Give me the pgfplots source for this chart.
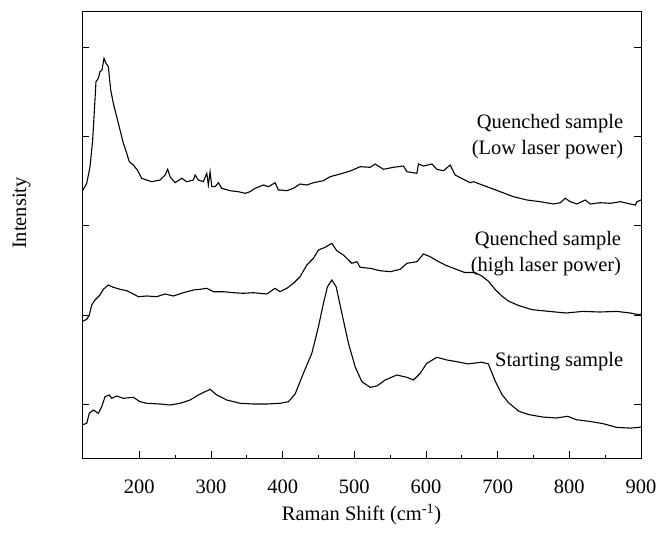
\documentclass[border=0pt]{standalone}
\usepackage{pgfplots}
\pgfplotsset{compat=1.18}
\usepackage{fontspec}
\setmainfont{Liberation Serif}
\begin{document}
\fontsize{20.5}{26}\selectfont
\begin{tikzpicture}
\begin{axis}[
  scale only axis,
  width=559pt, height=447pt,
  xmin=120, xmax=900, ymin=0, ymax=447,
  xtick={200,300,...,900},
  ytick={54,143,233,322,411},
  yticklabels={},
  minor x tick num=1,
  minor y tick num=4,
  tick align=inside,
  major tick length=7pt,
  minor tick length=3pt,
  xtick pos=bottom,
  ytick pos=both,
  /pgf/number format/assume math mode=true,
  x tick label style={yshift=-15pt},
  tick label style={font=\fontsize{20.5}{24}\selectfont},
  xlabel={Raman Shift (cm\textsuperscript{-1})},
  xlabel style={yshift=4pt},
  ylabel={Intensity},
  ylabel style={at={(axis description cs:-0.108,0.548)}, anchor=center, rotate=0},
  axis line style={line width=0.9pt},
  every tick/.style={line width=0.8pt, black},
]
% Quenched sample (Low laser power)
\addplot[black, line width=1.1pt] coordinates {
(120,266.3)(126.6,274.7)(131.2,291.3)(134.9,318)(138.1,358)(139.5,376.3)(142.8,379.7)(145.1,386.3)(147.9,388)(150.7,399.7)(153.5,394.7)(156.7,391.3)(160.1,368)(163.7,354.7)(168.4,341.3)(173.1,328)(177.7,314.7)(182.4,304.7)(186.0,296.3)(191.6,293)(197.2,288)(203.3,279.7)(210.3,278)(217.3,276.3)(228.9,278)(235.9,283)(239.6,288.7)(242.9,281.3)(249.8,275.3)(259.2,279.7)(266.2,276.3)(275.4,278)(277.8,283)(282.4,278)(289.3,276.3)(294.1,284.7)(296.3,273)(298.7,286.3)(301.1,271.3)(305.7,271.3)(310.3,275.3)(315.0,269.7)(326.6,267.3)(338.2,266.3)(347.6,264.7)(354.5,266.3)(361.5,269.7)(373.1,273)(380.1,271.3)(389.4,275.3)(394.1,268)(396.4,268)(405.8,267.3)(415.0,269.7)(424.3,274)(433.7,273)(442.9,275.3)(456.9,277.3)(466.2,281.3)(480.2,284)(494.2,287)(508.1,291.3)(522.1,290.7)(529.0,294)(540.6,288.7)(554.6,290.7)(568.6,292)(573.3,286.3)(587.3,284.7)(589.5,294)(596.5,292)(608.2,294)(615.2,288.7)(624.4,287.3)(633.8,293)(640.7,283)(652.3,278.7)(661.7,275.3)(666.3,276.3)(685.0,271.3)(703.6,266.3)(722.1,261.3)(740.8,258)(759.4,256.3)(778.0,254)(787.3,255.3)(794.3,259.7)(801.3,256.3)(810.6,254)(822.2,258)(829.2,254)(843.2,255.3)(857.1,254.7)(871.1,256.3)(885.1,254)(892.0,253)(894.4,256.3)(900,258)
};
% Quenched sample (high laser power)
\addplot[black, line width=1.1pt] coordinates {
(120,136.3)(126.6,138.7)(130.2,143)(133.5,153)(138.1,158)(145.1,163)(149.7,168.7)(156.7,173)(163.7,170.7)(173.1,168.7)(182.4,167.3)(191.6,164)(198.6,161.3)(210.3,162)(224.3,161.3)(235.9,164)(247.5,162)(261.4,165.3)(275.4,168)(284.7,168.7)(294.1,169.7)(303.3,166.3)(317.3,166.3)(331.2,165.3)(345.2,164.7)(359.1,165.3)(377.9,164)(389.4,169.7)(396.4,166.3)(405.8,169.7)(415.0,174.7)(424.3,181.3)(433.7,193)(442.9,199.7)(449.9,208)(459.2,210.7)(468.6,214.7)(475.5,207.3)(484.7,203)(496.5,194.7)(503.5,196.3)(508.1,190.7)(522.1,189.7)(536.0,187.3)(550.0,186.3)(564.0,188.7)(573.3,194.7)(587.3,196.3)(596.5,204)(605.8,201.3)(615.2,197.3)(626.8,193)(638.4,189.7)(654.0,185.5)(668.1,185.5)(677.6,182.1)(686.8,177)(696.4,168.6)(705.8,162)(715.3,156.8)(729.4,152.4)(748.2,148.3)(772.0,146.6)(795.4,145)(819.0,146.6)(842.6,146)(866.2,146.6)(885.1,145)(896.8,143.3)(900,144)
};
% Starting sample
\addplot[black, line width=1.1pt] coordinates {
(120,33)(126.6,34.7)(130.2,44.7)(135.8,48)(142.8,44.7)(147.5,51.3)(152.1,61.3)(158.1,63)(161.5,59.7)(168.4,62)(177.7,59.7)(191.6,60.7)(201.0,56.3)(210.3,54.7)(228.9,54)(242.9,53)(256.8,54.7)(270.8,58)(282.4,63)(291.7,66.3)(298.7,68.7)(308.1,63)(322.0,58)(340.6,54.7)(359.1,54)(377.9,54)(396.4,54.7)(408.0,56.3)(417.4,64)(428.9,84.7)(440.7,104.7)(449.9,131.3)(456.9,154.7)(462.5,171.3)(468.6,178)(474.6,171.3)(482.6,144.7)(491.8,114.7)(501.1,91.3)(510.5,76.3)(522.1,70.7)(531.4,72)(543.0,78)(559.3,83)(573.3,80.7)(582.5,78)(591.9,84.7)(601.2,94.7)(615.2,100.7)(629.2,98)(643.1,96.3)(658.6,94.1)(677.6,95.8)(687.0,94.1)(696.4,77.2)(705.8,63.7)(715.3,55.2)(729.4,46.8)(743.5,43.4)(762.5,41)(781.3,40)(797.8,41.7)(809.5,38.3)(828.5,36.6)(847.4,34.3)(866.2,30.6)(885.1,29.9)(896.8,30.6)(900,31)
};
\node[anchor=east, align=right, font=\fontsize{20.5}{26}\selectfont] at (axis cs:885,321) {Quenched sample\\(Low laser power)};
\node[anchor=east, align=right, font=\fontsize{20.5}{26}\selectfont] at (axis cs:882,204) {Quenched sample\\(high laser power)};
\node[anchor=east, align=right, font=\fontsize{20.5}{26}\selectfont] at (axis cs:885,96) {Starting sample};
\end{axis}
\pgfresetboundingbox
\path ([shift={(-82pt,-75pt)}]current axis.south west) rectangle ([shift={(26pt,11pt)}]current axis.north east);
\end{tikzpicture}
\end{document}
